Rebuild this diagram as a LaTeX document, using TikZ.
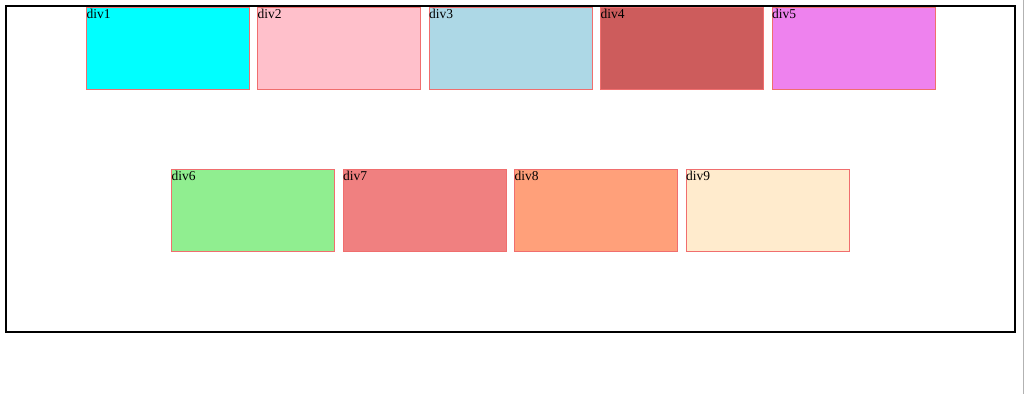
\documentclass[tikz,border=0pt]{standalone}
\usepackage{fontspec}
\setmainfont{Liberation Serif}
\usepackage{tikz}
\usetikzlibrary{positioning}

\definecolor{divcyan}{RGB}{0,255,255}
\definecolor{divpink}{RGB}{255,192,203}
\definecolor{divblue}{RGB}{173,216,230}
\definecolor{divindian}{RGB}{205,92,92}
\definecolor{divviolet}{RGB}{238,130,238}
\definecolor{divgreen}{RGB}{144,238,144}
\definecolor{divcoral}{RGB}{240,128,128}
\definecolor{divsalmon}{RGB}{255,160,122}
\definecolor{divalmond}{RGB}{255,235,205}
\definecolor{divedge}{RGB}{240,110,110}

\tikzset{
  divbox/.style={draw=divedge, line width=0.8pt, anchor=north west,
    minimum width=163pt, minimum height=82pt, inner sep=0pt},
  divlabel/.style={anchor=north west, inner sep=0.5pt, yshift=-1.5pt,
    font=\fontsize{13.5}{15}\selectfont}
}

\begin{document}
\begin{tikzpicture}[x=1pt,y=-1pt]
    \useasboundingbox (0,0) rectangle (1024,394);
    \draw[line width=2pt] (6,6) rectangle (1015,332);
    \draw[gray!60,line width=0.8pt] (1023,0) -- (1023,394);
    % top row
    \foreach \n/\x/\c in {1/86/divcyan,2/257/divpink,3/428.5/divblue,4/600/divindian,5/771.5/divviolet}{
      \node[divbox, fill=\c] (div\n) at (\x,6.5) {};
      \node[divlabel] (lab\n) at (div\n.north west) {div\n};
    }
    % bottom row
    \foreach \n/\x/\c in {6/171/divgreen,7/342.5/divcoral,8/514/divsalmon,9/685.5/divalmond}{
      \node[divbox, fill=\c] (div\n) at (\x,169) {};
      \node[divlabel] (lab\n) at (div\n.north west) {div\n};
    }
\end{tikzpicture}
\end{document}
